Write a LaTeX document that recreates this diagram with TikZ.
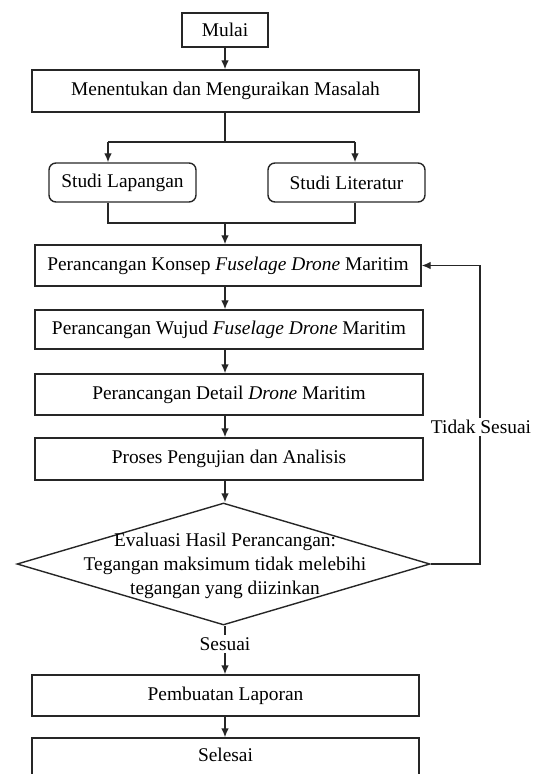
\documentclass[tikz,border=0pt]{standalone}
\usepackage{fontspec}
\setmainfont{Liberation Serif}
\usetikzlibrary{arrows.meta,shapes,positioning}

\begin{document}
\begin{tikzpicture}[x=0.5pt,y=-0.5pt,>={Latex[length=4.5pt,width=3.8pt]},line width=0.7pt,
  every node/.style={font=\fontsize{9.7}{12}\selectfont},
  proc/.style={draw=black!85,rectangle,minimum width=193.5pt,minimum height=20.5pt,inner sep=0pt},
  rproc/.style={proc,rounded corners=3.5pt},
  decision/.style={draw=black!85,diamond,minimum width=206.5pt,minimum height=61pt,inner sep=0pt},
  answer/.style={fill=white,inner sep=1pt}]
\path[use as bounding box] (0,0) rectangle (540,774);
\clip (0,0) rectangle (540,774);

% Steps
\node[proc,minimum width=43pt,minimum height=17pt] (mulai) at (225,30) {Mulai};
\node[proc,minimum height=21pt] (masalah) at (225.5,91) {Menentukan dan Menguraikan Masalah};
\node[rproc,minimum width=73.5pt,minimum height=19.5pt] (lapangan) at (122.5,182.5) {Studi Lapangan};
\node[rproc,minimum width=78.5pt,minimum height=19.5pt] (literatur) at (346.5,182.5) {Studi Literatur};
\node[proc,minimum width=193pt] (konsep) at (228,265.5) {Perancangan Konsep \textit{Fuselage Drone} Maritim};
\node[proc,minimum width=194pt,minimum height=19.5pt] (wujud) at (229,329.5) {Perancangan Wujud \textit{Fuselage Drone} Maritim};
\node[proc,minimum width=194pt] (detail) at (229,394.5) {Perancangan Detail \textit{Drone} Maritim};
\node[proc,minimum width=194pt,minimum height=21pt] (proses) at (229,459) {Proses Pengujian dan Analisis};
\node[decision] (evaluasi) at (223.5,564) {};
\node[align=center] (evalteks) at (225,566) {Evaluasi Hasil Perancangan:\\Tegangan maksimum tidak melebihi\\tegangan yang diizinkan};
\node[proc] (laporan) at (225.5,695.5) {Pembuatan Laporan};
\node[proc,minimum height=21pt] (selesai) at (225.5,759) {};
\node (selesaiteks) at (225.5,755) {Selesai};

% Connectors
\coordinate (spine) at (225,0);
\coordinate (splitL) at (108,142);
\coordinate (splitR) at (355,142);
\coordinate (joinL) at (108,223);
\coordinate (joinR) at (355,223);
\draw[black!85,->] (mulai.south) -- (spine |- masalah.north);
\draw[black!85] (spine |- masalah.south) -- (spine |- splitL);
\draw[black!85] (splitL) -- (splitR);
\draw[black!85,->] (splitL) -- (splitL |- lapangan.north);
\draw[black!85,->] (splitR) -- (splitR |- literatur.north);
\draw[black!85] (joinL |- lapangan.south) -- (joinL) -- (joinR) -- (joinR |- literatur.south);
\draw[black!85,->] (spine |- joinL) -- (spine |- konsep.north);
\draw[black!85,->] (spine |- konsep.south) -- (spine |- wujud.north);
\draw[black!85,->] (spine |- wujud.south) -- (spine |- detail.north);
\draw[black!85,->] (spine |- detail.south) -- (spine |- proses.north);
\draw[black!85,->] (spine |- proses.south) -- (spine |- evaluasi.north);

% Decision outcomes
\draw[black!85,->] (evaluasi.east) -- (480,564) |- (konsep.east);
\node[answer] (tidak) at (481,427) {Tidak Sesuai};
\draw[black!85,->] (spine |- evaluasi.south) -- (spine |- laporan.north);
\node[answer] (sesuai) at (225,644) {Sesuai};
\draw[black!85,->] (spine |- laporan.south) -- (spine |- selesai.north);
\end{tikzpicture}
\end{document}
